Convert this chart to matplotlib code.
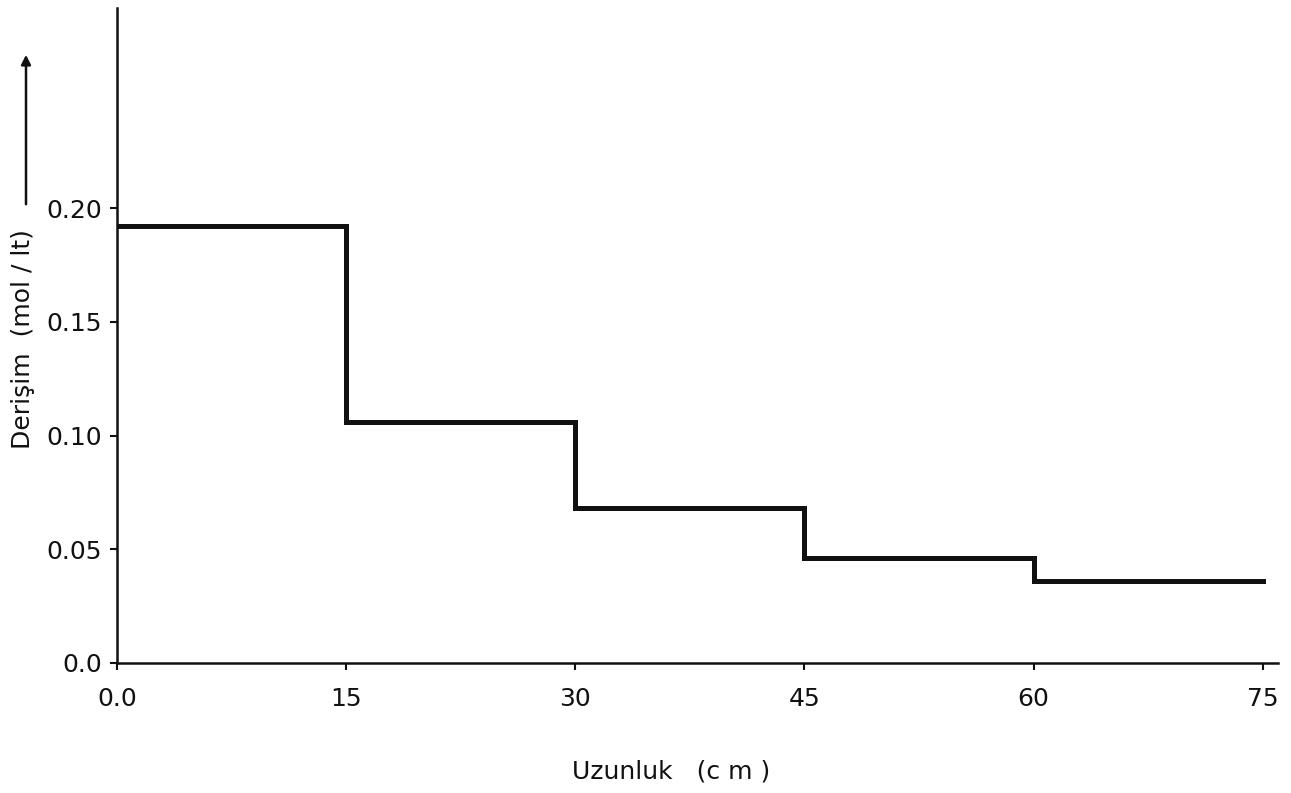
## Derisim - uzunluk grafigi (basamak)

import numpy as np
import matplotlib.pyplot as plt

# bolge sinirlari (cm) ve her bolgedeki derisim (mol/lt)
uzunluk = [0, 15, 30, 45, 60, 75]
derisim = [0.192, 0.106, 0.068, 0.046, 0.036]

xticks = [0, 15, 30, 45, 60, 75]
xtick_labels = ['0.0', '15', '30', '45', '60', '75']
yticks = [0.0, 0.05, 0.10, 0.15, 0.20]
ytick_labels = ['0.0', '0.05', '0.10', '0.15', '0.20']

fig = plt.figure(figsize=(12.91, 7.93), dpi=100)
ax = fig.add_axes([117/1291, 130/793, (1278-117)/1291, (663-8)/793])

# son degeri tekrar ekleyip 75 cm'e kadar uzat
y_step = derisim + [derisim[-1]]
ax.step(uzunluk, y_step, where='post', color='#111111', lw=3.6, solid_joinstyle='miter')

ax.set_xlim(0, 76)
ax.set_ylim(0, 0.288)
ax.set_xticks(xticks)
ax.set_xticklabels(xtick_labels)
ax.set_yticks(yticks)
ax.set_yticklabels(ytick_labels)

for s in ['top', 'right']:
    ax.spines[s].set_visible(False)
for s in ['left', 'bottom']:
    ax.spines[s].set_linewidth(1.8)
    ax.spines[s].set_color('#111111')

ax.tick_params(axis='both', direction='out', length=5, width=1.5, colors='#111111',
               labelsize=18)
ax.tick_params(axis='x', pad=12)
ax.tick_params(axis='y', pad=6)

fig.text(671/1291, 1 - 772/793, 'Uzunluk   (c m )', fontsize=18, color='#111111',
         ha='center', va='center')
fig.text(23/1291, 1 - 339/793, 'Derişim  (mol / lt)', fontsize=18, color='#111111',
         ha='center', va='center', rotation=90)

# eksen etiketinin ustundeki ok
ax.annotate('', xy=(26/1291, 1 - 52/793), xytext=(26/1291, 1 - 207/793),
            xycoords='figure fraction', textcoords='figure fraction',
            arrowprops=dict(arrowstyle='-|>', color='#111111', lw=1.8,
                            mutation_scale=14))

plt.savefig('out.png', dpi=100, facecolor='white')
